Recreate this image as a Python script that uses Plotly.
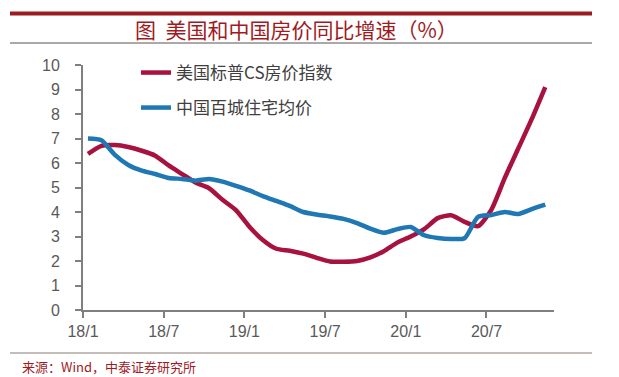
import plotly.graph_objects as go

# Month labels (Jan 2018 .. Nov 2020)
months = [f"{y % 100}/{m}" for y in (2018, 2019, 2020) for m in range(1, 13)][:35]
tick_labels = ["18/1", "18/7", "19/1", "19/7", "20/1", "20/7"]

us_cs = [6.37, 6.70, 6.73, 6.65, 6.50, 6.30, 5.90, 5.55, 5.20, 4.97, 4.50, 4.08,
         3.40, 2.86, 2.50, 2.42, 2.30, 2.13, 1.98, 1.97, 2.00, 2.15, 2.40, 2.75,
         3.00, 3.30, 3.75, 3.87, 3.60, 3.42, 4.10, 5.40, 6.60, 7.80, 9.10]
cn_100 = [7.00, 6.93, 6.33, 5.92, 5.69, 5.55, 5.39, 5.35, 5.28, 5.35, 5.24, 5.07,
          4.88, 4.65, 4.45, 4.25, 4.00, 3.90, 3.82, 3.72, 3.55, 3.32, 3.15, 3.30,
          3.39, 3.05, 2.94, 2.90, 2.93, 3.80, 3.88, 4.00, 3.92, 4.12, 4.30]

name_us = "美国标普CS房价指数"
name_cn = "中国百城住宅均价"
title_text = "图  美国和中国房价同比增速（%）"
source_text = "来源：Wind，中泰证券研究所"

RED = "#A8123E"
BLUE = "#1F77B4"
DARKRED = "#9E1B1F"

x_idx = list(range(len(months)))
tick_pos = [months.index(t) - 0.37 for t in tick_labels]

# plot area in page pixels: x 83..554, y 65..310 (page has 8px body margin)
def px(p):
    return (p - 83) / 471

def py(p):
    return (310 - p) / 245

fig = go.Figure()
fig.add_trace(go.Scatter(x=x_idx, y=us_cs, mode="lines", name=name_us,
                         line=dict(color=RED, width=4.5, shape="spline", smoothing=0.6),
                         legend="legend"))
fig.add_trace(go.Scatter(x=x_idx, y=cn_100, mode="lines", name=name_cn,
                         line=dict(color=BLUE, width=4.5, shape="spline", smoothing=0.6),
                         legend="legend2"))

axis_font = dict(family="Liberation Sans, Arial, sans-serif", size=16, color="#595959")
leg_font = dict(family="Noto Sans CJK SC, sans-serif", size=17, color="#404040")

fig.update_layout(
    width=611, height=369,
    margin=dict(l=75, r=65, t=57, b=67),
    paper_bgcolor="white", plot_bgcolor="white",
    xaxis=dict(range=[-0.37, 34.65], tickmode="array", tickvals=tick_pos, ticktext=tick_labels,
               showgrid=False, zeroline=False, showline=True, linecolor="#7F7F7F", linewidth=2,
               ticks="outside", ticklen=6, tickwidth=2, tickcolor="#7F7F7F",
               tickfont=axis_font, fixedrange=True),
    yaxis=dict(range=[0, 10], dtick=1, showgrid=False, zeroline=False, showline=True,
               linecolor="#7F7F7F", linewidth=2, ticks="outside", ticklen=6, tickwidth=2,
               tickcolor="#7F7F7F", tickfont=axis_font, ticklabelstandoff=12, fixedrange=True),
    legend=dict(x=px(136), y=py(73), xanchor="left", yanchor="middle", font=leg_font,
                bgcolor="rgba(0,0,0,0)"),
    legend2=dict(x=px(136), y=py(108), xanchor="left", yanchor="middle", font=leg_font,
                 bgcolor="rgba(0,0,0,0)"),
    showlegend=True,
)

# Header / footer rules
fig.add_shape(type="line", xref="paper", yref="paper", x0=px(10), x1=px(592),
              y0=py(13.5), y1=py(13.5), line=dict(color="#9B1C20", width=4))
fig.add_shape(type="line", xref="paper", yref="paper", x0=px(10), x1=px(592),
              y0=py(43), y1=py(43), line=dict(color="#555555", width=1))
fig.add_shape(type="line", xref="paper", yref="paper", x0=px(10), x1=px(592),
              y0=py(353), y1=py(353), line=dict(color="#8A7A74", width=1))

fig.add_annotation(text=title_text, xref="paper", yref="paper", x=px(296), y=py(29),
                   xanchor="center", yanchor="middle", showarrow=False,
                   font=dict(family="Noto Sans CJK SC, sans-serif", size=21, color=DARKRED))
fig.add_annotation(text=source_text, xref="paper", yref="paper", x=px(20), y=py(366),
                   xanchor="left", yanchor="middle", showarrow=False,
                   font=dict(family="Noto Sans CJK SC, sans-serif", size=13, color=DARKRED))

fig.write_html("out.html")
